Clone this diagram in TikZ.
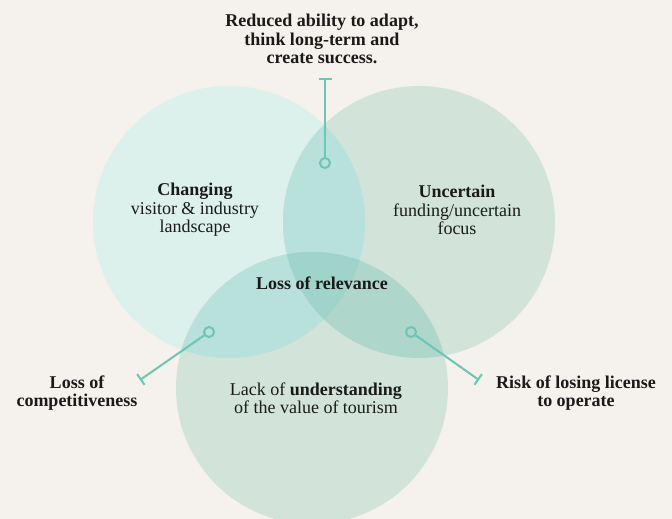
\documentclass[tikz,border=0pt]{standalone}
\usepackage{fontspec}
\setmainfont{Liberation Serif}
\usetikzlibrary{arrows.meta}
\definecolor{paper}{HTML}{F5F1EC}
\definecolor{ringA}{HTML}{DCF0EC}
\definecolor{ringB}{HTML}{D2E3DA}
\definecolor{ringC}{HTML}{D2E3DA}
\definecolor{ringAB}{HTML}{B8E1DB}
\definecolor{ringAC}{HTML}{B8E1DB}
\definecolor{ringBC}{HTML}{AFD6CB}
\definecolor{ringABC}{HTML}{A0D3CA}
\definecolor{tealline}{HTML}{6CC5B5}
\definecolor{ink}{HTML}{1A1A1A}
\tikzset{
  pin/.style={circle, draw=tealline, line width=2pt, minimum size=10pt, inner sep=0pt},
  link/.style={draw=tealline, line width=2pt, -{Bar[width=13pt, line width=2pt]}},
  label/.style={align=center, text=ink, font=\fontsize{18}{18.5}\selectfont, inner sep=0pt},
  boldlabel/.style={label, font=\fontsize{18}{18.5}\selectfont\bfseries},
}
\begin{document}
\begin{tikzpicture}[x=1pt,y=-1pt]
\fill[paper] (0,0) rectangle (672,519);
\useasboundingbox (0,0) rectangle (672,519);
\clip (0,0) rectangle (672,519);
\coordinate (cA) at (229,222);
\coordinate (cB) at (419,222);
\coordinate (cC) at (312,388);
% three overlapping sets
\fill[ringA] (cA) circle (136pt);
\fill[ringB] (cB) circle (136pt);
\fill[ringC] (cC) circle (136pt);
\begin{scope}
  \clip (cA) circle (136pt);
  \fill[ringAB] (cB) circle (136pt);
  \fill[ringAC] (cC) circle (136pt);
\end{scope}
\begin{scope}
  \clip (cB) circle (136pt);
  \fill[ringBC] (cC) circle (136pt);
\end{scope}
\begin{scope}
  \clip (cA) circle (136pt);
  \clip (cB) circle (136pt);
  \fill[ringABC] (cC) circle (136pt);
\end{scope}
% set labels
\node[label] (tA) at (195,210) {\textbf{Changing}\\visitor \& industry\\landscape};
\node[label] (tB) at (457,210) {\textbf{Uncertain}\\funding/uncertain\\focus};
\node[label] (tC) at (316,398) {Lack of \textbf{understanding}\\of the value of tourism};
\node[boldlabel] (tABC) at (322,283) {Loss of relevance};
% outcome labels
\node[boldlabel] (oTop) at (322,39) {Reduced ability to adapt,\\think long-term and\\create success.};
\node[boldlabel] (oLeft) at (77,393) {Loss of\\competitiveness};
\node[boldlabel] (oRight) at (576,393) {Risk of losing license\\to operate};
% connectors
\node[pin] (pAB) at (325,163) {};
\node[pin] (pAC) at (209,332) {};
\node[pin] (pBC) at (411,332) {};
\coordinate (eAB) at (325,78);
\coordinate (eAC) at (140,380);
\coordinate (eBC) at (479,380);
\draw[link] (pAB) -- (eAB);
\draw[link] (pAC) -- (eAC);
\draw[link] (pBC) -- (eBC);
\end{tikzpicture}
\end{document}
